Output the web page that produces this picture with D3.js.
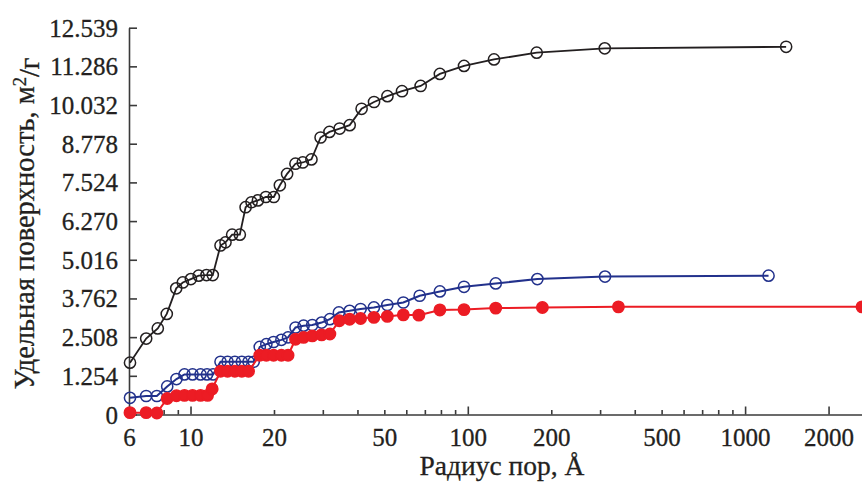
<!DOCTYPE html>
<html>
<head>
<meta charset="utf-8">
<script src="https://cdn.jsdelivr.net/npm/d3@7"></script>
<style>
  body { margin: 0; background: #fff; }
  svg { display: block; }
  svg text { font-family: "Liberation Serif", "DejaVu Serif", "Times New Roman", serif; fill: #231f20; stroke: #231f20; stroke-width: 0.3px; }
</style>
</head>
<body>
<svg id="chart" width="862" height="482"></svg>
<script>
// Pore radius (Å) and cumulative specific surface (m²/g) for each sample
const blackRadius = [6.05, 6.92, 7.62, 8.21, 8.88, 9.38, 10.03, 10.7, 11.42, 12.03,
  12.83, 13.37, 14.13, 15.06, 15.8, 16.6, 17.5, 18.7, 19.97, 21.0, 22.3, 23.9, 25.4,
  27.3, 29.45, 31.7, 34.5, 37.5, 41.4, 45.9, 51.3, 57.9, 67.6, 79.3, 96.9, 124.3,
  177.2, 311.8, 1406];
const blackSurface = [1.68, 2.46, 2.79, 3.26, 4.09, 4.28, 4.39, 4.50, 4.52, 4.52,
  5.48, 5.58, 5.83, 5.83, 6.72, 6.88, 6.94, 7.05, 7.05, 7.43, 7.80, 8.13, 8.17,
  8.27, 8.98, 9.16, 9.27, 9.38, 9.91, 10.13, 10.32, 10.48, 10.65, 11.04, 11.30, 11.51,
  11.73, 11.87, 11.92];

const blueRadius = [6.05, 6.92, 7.56, 8.24, 8.90, 9.51, 10.17, 10.87, 11.47, 12.06,
  12.83, 13.60, 14.45, 15.31, 16.19, 16.9, 17.77, 18.77, 19.93, 21.27, 22.48, 23.92,
  25.57, 27.49, 29.70, 31.81, 34.28, 37.47, 41.06, 45.85, 51.26, 58.55, 67.05, 79.3,
  96.9, 126.1, 178.2, 312.5, 1215];
const blueSurface = [0.54, 0.60, 0.60, 0.91, 1.15, 1.30, 1.30, 1.30, 1.30, 1.30,
  1.71, 1.71, 1.71, 1.71, 1.71, 1.71, 2.19, 2.28, 2.35, 2.42, 2.50, 2.82,
  2.88, 2.90, 2.98, 3.09, 3.31, 3.36, 3.42, 3.47, 3.55, 3.63, 3.85, 3.99,
  4.14, 4.25, 4.39, 4.47, 4.50];

const redRadius = [6.05, 6.92, 7.56, 8.24, 8.90, 9.51, 10.17, 10.87, 11.52, 11.97,
  12.83, 13.60, 14.45, 15.31, 16.19, 17.77, 18.77, 19.93, 21.27, 22.48, 23.92, 25.57,
  27.49, 29.70, 31.81, 34.4, 37.47, 41.06, 45.85, 51.26, 58.55, 66.6, 79.3, 96.9,
  126.1, 185.8, 349.3, 2640];
const redSurface = [0.06, 0.06, 0.05, 0.52, 0.61, 0.62, 0.62, 0.62, 0.62, 0.83,
  1.40, 1.40, 1.40, 1.40, 1.40, 1.92, 1.92, 1.92, 1.92, 1.92, 2.44, 2.50,
  2.55, 2.58, 2.61, 3.04, 3.09, 3.11, 3.15, 3.18, 3.23, 3.22, 3.39, 3.40,
  3.45, 3.47, 3.49, 3.49];

// Axis ticks
const yTickLabels = ["0", "1.254", "2.508", "3.762", "5.016", "6.270", "7.524",
  "8.778", "10.032", "11.286", "12.539"];
const xTickLabels = ["6", "10", "20", "50", "100", "200", "500", "1000", "2000"];
const xLongTicks = [10, 100, 1000, 2000];
const xShortTicks = [7, 8, 9, 20, 30, 40, 50, 60, 70, 80, 90,
  200, 300, 400, 500, 600, 700, 800, 900];

const xTitle = "Радиус пор, Å";

const ink = "#231f20";
const serifFont = "'Liberation Serif', 'DejaVu Serif', 'Times New Roman', serif";
const series = [
  { r: blackRadius, v: blackSurface, color: "#231f20", filled: false, width: 1.8 },
  { r: blueRadius, v: blueSurface, color: "#22318c", filled: false, width: 2 },
  { r: redRadius, v: redSurface, color: "#ec1c24", filled: true, width: 2 }
];

const svg = d3.select("#chart");
const x = d3.scaleLog().domain([6, 2640]).range([129, 862]);
const yTickValues = yTickLabels.map(Number);
const y = d3.scaleLinear().domain([0, 12.539]).range([414.5, 27.7]);

// Y axis: inward ticks, labels on the left
const yAxis = svg.append("g").attr("transform", "translate(129,0)")
  .call(d3.axisLeft(y).tickValues(yTickValues)
    .tickFormat((d, i) => yTickLabels[i])
    .tickSizeInner(-8).tickSizeOuter(0).tickPadding(11));
yAxis.attr("font-family", serifFont);
yAxis.selectAll("text").attr("font-size", 25).attr("dy", "0.34em");

// X axis: labels, long and short inward ticks
const xAxis = svg.append("g").attr("transform", "translate(0,414.5)")
  .call(d3.axisBottom(x).tickValues(xTickLabels.map(Number))
    .tickFormat((d, i) => xTickLabels[i]).tickSizeInner(0).tickSizeOuter(0).tickPadding(14));
xAxis.attr("font-family", serifFont);
xAxis.selectAll("text").attr("font-size", 25);
svg.append("g").attr("transform", "translate(0,414.5)")
  .call(d3.axisBottom(x).tickValues(xLongTicks).tickFormat("").tickSizeInner(-8).tickSizeOuter(0))
  .select(".domain").remove();
svg.append("g").attr("transform", "translate(0,414.5)")
  .call(d3.axisBottom(x).tickValues(xShortTicks).tickFormat("").tickSizeInner(-4.5).tickSizeOuter(0))
  .select(".domain").remove();

svg.selectAll(".domain, .tick line").attr("stroke", "#3a3a3a").attr("stroke-width", 1.6);
svg.selectAll("g text").attr("fill", ink);

// Series lines and markers
const line = d3.line().x(d => x(d[0])).y(d => y(d[1]));
series.forEach(s => {
  const pts = s.r.map((r, i) => [r, s.v[i]]);
  svg.append("path").datum(pts)
    .attr("d", line).attr("fill", "none")
    .attr("stroke", s.color).attr("stroke-width", s.width);
  svg.append("g").selectAll("circle").data(pts).join("circle")
    .attr("cx", d => x(d[0])).attr("cy", d => y(d[1]))
    .attr("r", s.filled ? 5.7 : 5.6)
    .attr("fill", s.filled ? s.color : "none")
    .attr("stroke", s.color).attr("stroke-width", 1.5);
});

// Axis titles
svg.append("text").attr("x", 502).attr("y", 475)
  .attr("font-family", serifFont)
  .attr("text-anchor", "middle").attr("font-size", 27.5).text(xTitle);

const yTitle = svg.append("text")
  .attr("font-family", serifFont)
  .attr("transform", "translate(34,223.5) rotate(-90)")
  .attr("text-anchor", "middle").attr("font-size", 28.5);
yTitle.append("tspan").text("Удельная поверхность, м");
yTitle.append("tspan").attr("dy", "-0.45em").attr("font-size", 18.5).text("2");
yTitle.append("tspan").attr("dy", "0.45em").text("/г");
</script>
</body>
</html>
